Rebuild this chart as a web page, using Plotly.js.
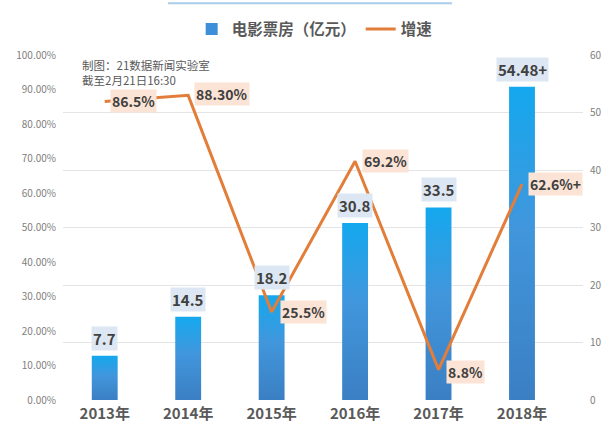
<!DOCTYPE html>
<html>
<head>
<meta charset="utf-8">
<script src="https://cdn.plot.ly/plotly-3.0.1.min.js"></script>
<style>
html,body{margin:0;padding:0;background:#fff;}
#chart{width:613px;height:436px;}
</style>
</head>
<body>
<div id="chart"></div>
<script>
var years = ["2013年","2014年","2015年","2016年","2017年","2018年"];
var boxOffice = [7.7, 14.5, 18.2, 30.8, 33.5, 54.48];
var growth = [0.865, 0.883, 0.255, 0.692, 0.088, 0.626];
var boxLabels = ["7.7","14.5","18.2","30.8","33.5","54.48+"];
var growthLabels = ["86.5%","88.30%","25.5%","69.2%","8.8%","62.6%+"];
var leftTicks = [0,0.1,0.2,0.3,0.4,0.5,0.6,0.7,0.8,0.9,1.0];
var rightTicks = [0,10,20,30,40,50,60];
var growthShift = [5, 6, 8, 7, 7, 6];
var growthYShift = [1, 1, 0, 0, -2, 0];

var FONT = "'Noto Sans CJK SC', 'Noto Sans', sans-serif";

var bars = {
  type: 'bar', name: '电影票房（亿元）', x: years, y: boxOffice,
  yaxis: 'y', width: 0.31,
  marker: {color: '#3d8fd9', line: {width: 0}},
  hoverinfo: 'none'
};
var line = {
  type: 'scatter', mode: 'lines', name: '增速', x: years, y: growth,
  yaxis: 'y2', line: {color: '#e27d3a', width: 3},
  hoverinfo: 'none'
};

var annotations = [];
for (var i = 0; i < years.length; i++) {
  annotations.push({
    x: years[i], y: boxOffice[i], xref: 'x', yref: 'y',
    text: boxLabels[i], showarrow: false, yanchor: 'bottom', yshift: 5,
    bgcolor: '#dce7f3', borderpad: 1,
    font: {family: FONT, size: 15, color: '#404040', weight: 'bold'}
  });
  annotations.push({
    x: years[i], y: growth[i], xref: 'x', yref: 'y2',
    text: growthLabels[i], showarrow: false, xanchor: 'left', yanchor: 'middle',
    xshift: growthShift[i], yshift: growthYShift[i],
    bgcolor: '#fbe4d5', borderpad: 1,
    font: {family: FONT, size: 14, color: '#404040', weight: 'bold'}
  });
}
annotations.push({
  x: 0.033, y: 1.0, xref: 'paper', yref: 'paper', xanchor: 'left', yanchor: 'top',
  align: 'left', showarrow: false,
  text: '制图：21数据新闻实验室<br>截至2月21日16:30',
  font: {family: FONT, size: 11.5, color: '#595959'}
});

var layout = {
  width: 613, height: 436,
  margin: {l: 63, r: 30, t: 48, b: 36},
  paper_bgcolor: '#ffffff', plot_bgcolor: '#ffffff',
  font: {family: FONT},
  showlegend: true,
  legend: {
    orientation: 'h', x: 0.484, xanchor: 'center', y: 1.074, yanchor: 'middle',
    font: {family: FONT, size: 15.5, color: '#595959', weight: 'bold'},
    itemwidth: 30, bgcolor: 'rgba(0,0,0,0)', traceorder: 'normal'
  },
  xaxis: {
    type: 'category', showgrid: false, zeroline: false, showline: false,
    ticks: '', ticklabelstandoff: 3,
    tickfont: {family: FONT, size: 15, color: '#595959', weight: 'bold'},
    fixedrange: true
  },
  yaxis: {
    side: 'right', range: [0, 60], tickvals: rightTicks,
    showgrid: true, gridcolor: '#e4e4e4', gridwidth: 1, zeroline: false,
    showline: false, ticks: '', ticklabelstandoff: 6,
    tickfont: {family: FONT, size: 10, color: '#808080'}, fixedrange: true
  },
  yaxis2: {
    overlaying: 'y', side: 'left', range: [0, 1], tickvals: leftTicks,
    tickformat: '.2%', showgrid: false, zeroline: false, showline: false,
    ticks: '', ticklabelstandoff: 6,
    tickfont: {family: FONT, size: 10, color: '#808080'}, fixedrange: true
  },
  annotations: annotations,
  shapes: [{
    type: 'line', xref: 'paper', yref: 'paper', x0: 0.202, x1: 0.748, y0: 1.15, y1: 1.15,
    line: {color: '#a9cdea', width: 2}
  }]
};

Plotly.newPlot('chart', [bars, line], layout, {displayModeBar: false, staticPlot: true}).then(function (gd) {
  var svg = gd.querySelector('svg.main-svg');
  var ns = 'http://www.w3.org/2000/svg';
  var defs = document.createElementNS(ns, 'defs');
  var grad = document.createElementNS(ns, 'linearGradient');
  grad.setAttribute('id', 'barGrad');
  grad.setAttribute('x1', '0'); grad.setAttribute('y1', '0');
  grad.setAttribute('x2', '0'); grad.setAttribute('y2', '1');
  [['0', '#14a8ee'], ['0.45', '#4196dc'], ['1', '#3b7fc3']].forEach(function (s) {
    var st = document.createElementNS(ns, 'stop');
    st.setAttribute('offset', s[0]);
    st.setAttribute('stop-color', s[1]);
    grad.appendChild(st);
  });
  defs.appendChild(grad);
  svg.insertBefore(defs, svg.firstChild);
  gd.querySelectorAll('.barlayer .point path').forEach(function (p) {
    p.style.fill = 'url(#barGrad)';
  });
});
</script>
</body>
</html>
